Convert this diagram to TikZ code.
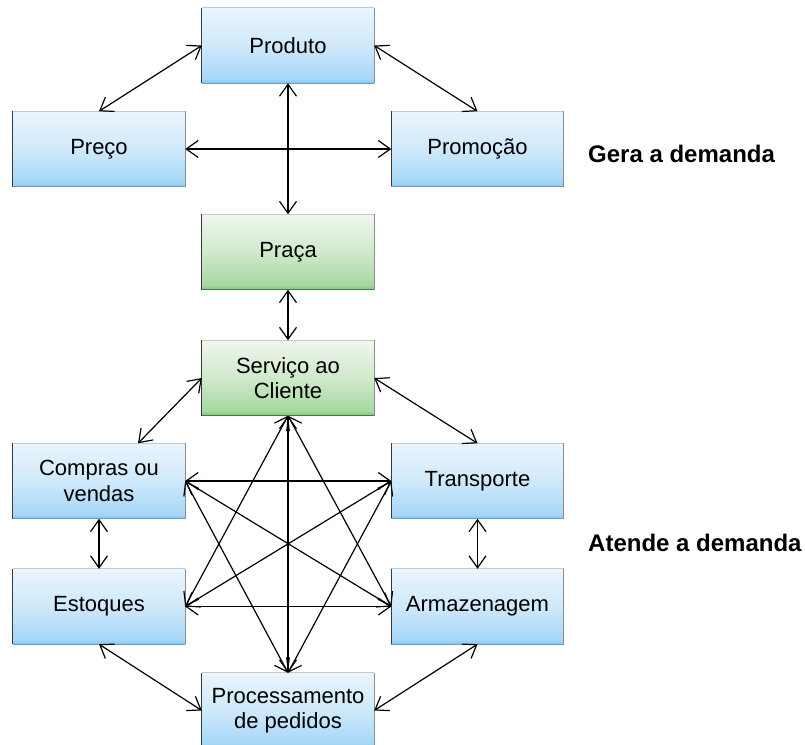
\documentclass[tikz,border=0pt]{standalone}
\usepackage{fontspec}
\setmainfont{Liberation Sans}
\usetikzlibrary{arrows.meta,calc}

% box fills: light at the top, deeper towards a darker band at the bottom
\definecolor{blueA}{HTML}{EAF5FD}
\definecolor{blueB}{HTML}{CFE9FB}
\definecolor{blueC}{HTML}{A6D7F8}
\definecolor{blueD}{HTML}{84C6F4}
\definecolor{greenA}{HTML}{EFF7ED}
\definecolor{greenB}{HTML}{D0E9CB}
\definecolor{greenC}{HTML}{A6D9A0}
\definecolor{greenD}{HTML}{80C678}
\definecolor{edgeTop}{HTML}{C8C8C8}
\definecolor{edgeRight}{HTML}{8C8C8C}
\definecolor{edgeLeft}{HTML}{3A3A3A}
\definecolor{edgeBlue}{HTML}{5E9FCC}
\definecolor{edgeGreen}{HTML}{3F7F3F}

\pgfdeclareverticalshading{bluegrad}{100bp}{color(0bp)=(blueD); color(25bp)=(blueD); color(28bp)=(blueC); color(50bp)=(blueB); color(75bp)=(blueA); color(100bp)=(blueA)}
\pgfdeclareverticalshading{greengrad}{100bp}{color(0bp)=(greenD); color(25bp)=(greenD); color(28bp)=(greenC); color(50bp)=(greenB); color(75bp)=(greenA); color(100bp)=(greenA)}

\begin{document}
\begin{tikzpicture}[x=1pt,y=-1pt,
  box/.style={rectangle, minimum width=172pt, minimum height=75pt, inner sep=0pt,
              font=\fontsize{22}{25.5}\selectfont, align=center},
  blue box/.style={box, shading=bluegrad},
  green box/.style={box, shading=greengrad},
  link/.style={<->, line width=1.2pt, line join=round,
               >={Straight Barb[length=12pt,width=17pt]}},
  side/.style={font=\bfseries\fontsize{24}{28}\selectfont, anchor=base west, inner sep=0pt}]

\fill[white] (0,0) rectangle (805,744);
\useasboundingbox (0,0) rectangle (805,744);

% marketing mix
\node[blue box]  (prod)  at (288,45.5)  {Produto};
\node[blue box]  (preco) at (99,149)    {Preço};
\node[blue box]  (promo) at (477.5,149) {Promoção};
\node[green box] (praca) at (288,252)   {Praça};

% logistics activities
\node[green box] (serv)  at (288,378)     {Serviço ao\\Cliente};
\node[blue box]  (comp)  at (99,481)      {Compras ou\\vendas};
\node[blue box]  (trans) at (477.5,481)   {Transporte};
\node[blue box]  (estq)  at (99,606.5)    {Estoques};
\node[blue box]  (armz)  at (477.5,606.5) {Armazenagem};
\node[blue box]  (proc)  at (288,710.5)   {Processamento\\de pedidos};

% box outlines: pale top, grey right, dark left, tinted bottom
\foreach \n in {prod,preco,promo,praca,serv,comp,trans,estq,armz,proc}{
  \draw[edgeTop, line width=1.1pt] (\n.north west) -- (\n.north east);
  \draw[edgeRight, line width=1.1pt] (\n.north east) -- (\n.south east);
  \draw[edgeLeft, line width=1.1pt] (\n.north west) -- (\n.south west);
}
\foreach \n in {prod,preco,promo,comp,trans,estq,armz,proc}
  \draw[edgeBlue, line width=1.2pt] (\n.south west) -- (\n.south east);
\foreach \n in {praca,serv}
  \draw[edgeGreen, line width=1.3pt] (\n.south west) -- (\n.south east);

% upper connectors
\draw[link] (prod.west) -- (preco.north);
\draw[link] (prod.east) -- (promo.north);
\draw[link] (prod.south) -- (praca.north);
\draw[link] (preco.east) -- (promo.west);
\draw[link] (praca.south) -- (serv.north);

% outer ring of the logistics part
\draw[link] (serv.west) -- ([xshift=39pt]comp.north);
\draw[link] (serv.east) -- (trans.north);
\draw[link] (comp.south) -- (estq.north);
\draw[link] (trans.south) -- (armz.north);
\draw[link] (estq.south) -- (proc.west);
\draw[link] (armz.south) -- (proc.east);

% inner star
\draw[link] (serv.south) -- (proc.north);
\draw[link] (serv.south) -- (estq.east);
\draw[link] (serv.south) -- (armz.west);
\draw[link] (comp.east) -- (trans.west);
\draw[link] (comp.east) -- (armz.west);
\draw[link] (comp.east) -- (proc.north);
\draw[link] (trans.west) -- (estq.east);
\draw[link] (trans.west) -- (proc.north);
\draw[link] (estq.east) -- (armz.west);

% group labels
\node[side] (gera)   at (588,162) {Gera a demanda};
\node[side] (atende) at (588,551) {Atende a demanda};
\end{tikzpicture}
\end{document}
